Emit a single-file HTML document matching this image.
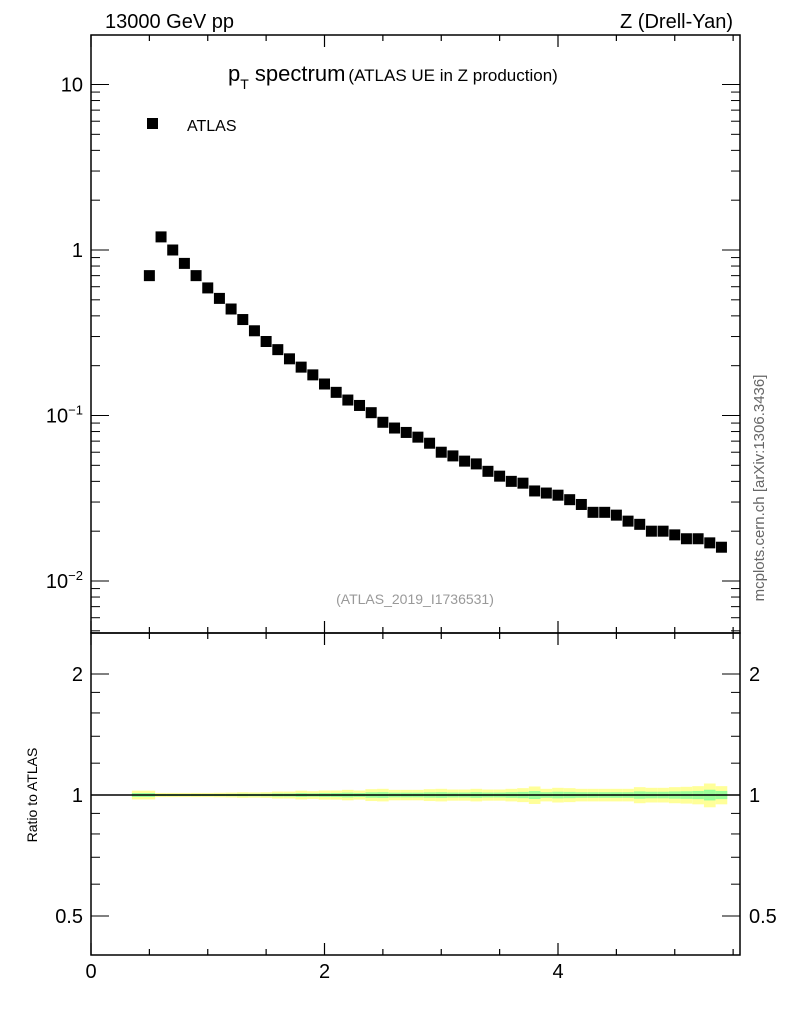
<!DOCTYPE html>
<html><head><meta charset="utf-8"><style>
body{margin:0;background:#fff;}
svg text{font-family:"Liberation Sans",sans-serif;}
</style></head><body>
<svg id="c" width="786" height="1024" xmlns="http://www.w3.org/2000/svg">
<text x="105" y="28" font-size="20">13000 GeV pp</text>
<text x="733" y="28" font-size="20" text-anchor="end">Z (Drell-Yan)</text>
<text x="228" y="81" font-size="22">p<tspan font-size="14" dy="8">T</tspan><tspan dy="-8"> spectrum</tspan><tspan font-size="17" dx="3">(ATLAS UE in Z production)</tspan></text>
<rect x="147" y="118" width="11" height="11" fill="#000"/>
<text x="187" y="131" font-size="16">ATLAS</text>
<text x="415" y="604" font-size="14" fill="#999" text-anchor="middle">(ATLAS_2019_I1736531)</text>
<text transform="translate(764,488) rotate(-90)" font-size="15" fill="#666" text-anchor="middle">mcplots.cern.ch [arXiv:1306.3436]</text>
<text transform="translate(37,795) rotate(-90)" font-size="14" text-anchor="middle">Ratio to ATLAS</text>
<g id="g"></g>
</svg>
<script>
const xs=[0.5,0.6,0.7,0.8,0.9,1.0,1.1,1.2,1.3,1.4,1.5,1.6,1.7,1.8,1.9,2.0,2.1,2.2,2.3,2.4,2.5,2.6,2.7,2.8,2.9,3.0,3.1,3.2,3.3,3.4,3.5,3.6,3.7,3.8,3.9,4.0,4.1,4.2,4.3,4.4,4.5,4.6,4.7,4.8,4.9,5.0,5.1,5.2,5.3,5.4];
const ys=[0.70,1.2,1.0,0.83,0.70,0.59,0.51,0.44,0.38,0.325,0.28,0.25,0.22,0.196,0.176,0.155,0.138,0.124,0.115,0.104,0.091,0.084,0.079,0.074,0.068,0.060,0.057,0.053,0.051,0.046,0.043,0.040,0.039,0.035,0.034,0.033,0.031,0.029,0.026,0.026,0.025,0.023,0.022,0.020,0.020,0.019,0.018,0.018,0.017,0.016];
const relErr=[0.025,0.012,0.012,0.012,0.012,0.012,0.013,0.014,0.016,0.015,0.016,0.02,0.02,0.025,0.022,0.026,0.026,0.03,0.026,0.034,0.036,0.03,0.03,0.03,0.034,0.036,0.032,0.032,0.036,0.032,0.032,0.036,0.04,0.05,0.036,0.042,0.04,0.036,0.036,0.036,0.036,0.036,0.046,0.042,0.042,0.046,0.048,0.052,0.068,0.052];
const yTicks=[0.01,0.1,1,10];
const yTickLabels=["10<tspan font-size='13' dy='-8'>−2</tspan>","10<tspan font-size='13' dy='-8'>−1</tspan>","1","10"];
const xTicks=[0,2,4];
const rTicks=[0.5,1,2];

const L=91,R=740,T=35,B=633,RT=633,RB=955;
const X=v=>L+v*116.75;
const Y=v=>250-Math.log10(v)*165.5;
const RY=v=>795-Math.log2(v)*121;
const g=document.getElementById('g');
const NS='http://www.w3.org/2000/svg';
function mk(tag,attrs,name){const e=document.createElementNS(NS,tag);for(const k in attrs)e.setAttribute(k,attrs[k]);


g.appendChild(e);return e;}
xs.forEach((x,i)=>{
 const x0=X(i==0?x-0.15:x-0.05),x1=X(x+0.05);
 const e=relErr[i];
 mk('rect',{x:x0,y:RY(1+e),width:x1-x0,height:RY(1-e)-RY(1+e),fill:'#ffff99'},'ratio-band-yellow');
 mk('rect',{x:x0,y:RY(1+e*0.45),width:x1-x0,height:RY(1-e*0.45)-RY(1+e*0.45),fill:'#99ff99'},'ratio-band-green');
});
mk('line',{x1:L,x2:R,y1:RY(1),y2:RY(1),stroke:'#000','stroke-width':1.5},'ratio-reference-line');
mk('rect',{x:L,y:T,width:R-L,height:B-T,fill:'none',stroke:'#000','stroke-width':1.5},'main-frame');
mk('rect',{x:L,y:RT,width:R-L,height:RB-RT,fill:'none',stroke:'#000','stroke-width':1.5},'ratio-frame');
xs.forEach((x,i)=>{mk('rect',{x:X(x)-5.5,y:Y(ys[i])-5.5,width:11,height:11,fill:'#000'},'data-point');});
for(let d=-3;d<=1;d++){for(let m=1;m<10;m++){const v=m*Math.pow(10,d);const y=Y(v);if(y<T||y>B)continue;const len=m==1?18:9;
 mk('line',{x1:L,x2:L+len,y1:y,y2:y,stroke:'#000'},'y-tick');
 mk('line',{x1:R,x2:R-len,y1:y,y2:y,stroke:'#000'},'y-tick');}}
yTicks.forEach((v,i)=>{const t=mk('text',{x:L-8,y:Y(v)+7,'font-size':20,'text-anchor':'end'},'y-tick-label');t.innerHTML=yTickLabels[i];});
for(let k=0;k<=11;k++){const v=k*0.5;const big=k%4==0;const len=big?12:6;
 [[B,-1],[RB,-1],[T,1],[RT,1]].forEach(([y0,s])=>mk('line',{x1:X(v),x2:X(v),y1:y0,y2:y0+s*len,stroke:'#000','stroke-width':1.2},'x-tick'));}
xTicks.forEach(v=>{const t=mk('text',{x:X(v),y:978,'font-size':20,'text-anchor':'middle'},'x-tick-label');t.textContent=v;});
[0.5,0.6,0.7,0.8,0.9,1,1.2,1.4,1.6,1.8,2].forEach(v=>{const y=RY(v);const big=rTicks.includes(v);const len=big?18:9;
 mk('line',{x1:L,x2:L+len,y1:y,y2:y,stroke:'#000'},'ratio-y-tick');
 mk('line',{x1:R,x2:R-len,y1:y,y2:y,stroke:'#000'},'ratio-y-tick');});
rTicks.forEach(v=>{const t=mk('text',{x:L-8,y:RY(v)+7,'font-size':20,'text-anchor':'end'},'ratio-y-tick-label');t.textContent=v;
 const t2=mk('text',{x:R+9,y:RY(v)+7,'font-size':20},'ratio-y-tick-label-right');t2.textContent=v;});
</script>
</body></html>
